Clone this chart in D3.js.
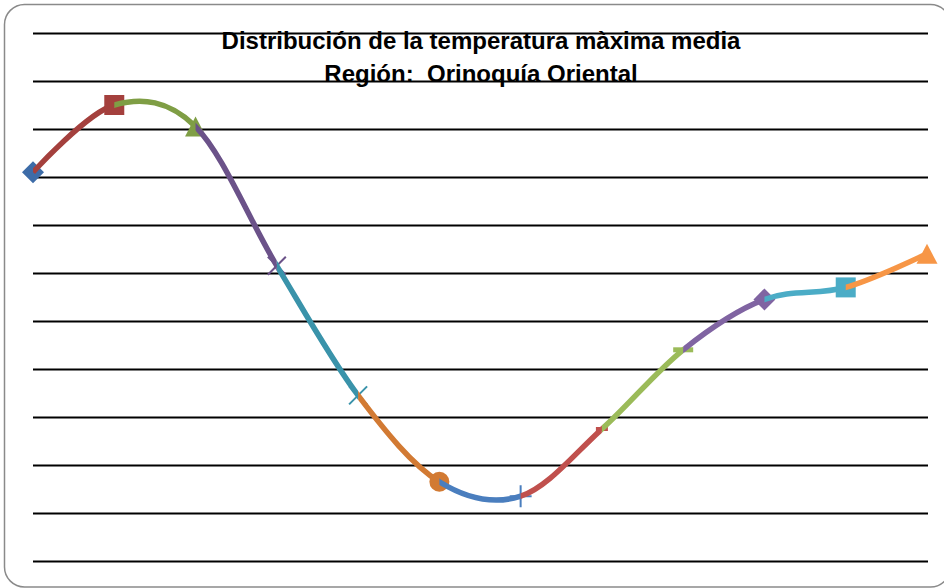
<!DOCTYPE html>
<html>
<head>
<meta charset="utf-8">
<script src="https://cdn.jsdelivr.net/npm/d3@7"></script>
<style>
  html, body { margin: 0; padding: 0; background: #ffffff; }
  svg { display: block; }
</style>
</head>
<body>
<svg id="chart" width="944" height="588"></svg>
<script>
// Monthly mean maximum temperature (°C)
const months = ["Ene", "Feb", "Mar", "Abr", "May", "Jun", "Jul", "Ago", "Sep", "Oct", "Nov", "Dic"];
const tmax = [32.62, 32.90, 32.81, 32.23, 31.69, 31.33, 31.27, 31.55, 31.88, 32.09, 32.14, 32.28];
const gridValues = [31.0, 31.2, 31.4, 31.6, 31.8, 32.0, 32.2, 32.4, 32.6, 32.8, 33.0, 33.2];
const titleLines = ["Distribución de la temperatura màxima media", "Región:  Orinoquía Oriental"];

// One colour and marker per month; the segment ending at a month takes that month's colour
const monthColors = ["#3d6ca8", "#a4403d", "#7f9e45", "#6b5289", "#3a93aa", "#d27a33",
                     "#4a7ebe", "#c0504d", "#9bbb59", "#8064a2", "#4bacc6", "#f79646"];
const monthMarkers = ["diamond", "square", "triangle", "x", "x", "circle",
                      "plus", "dash", "longdash", "diamond", "square", "triangle"];

const svg = d3.select("#chart");
const width = 944, height = 588;
const plot = { left: 33, right: 928, top: 33, bottom: 561 };

// Outer rounded frame
svg.append("rect")
  .attr("x", 4.5).attr("y", 4.5)
  .attr("width", 946).attr("height", 582.5)
  .attr("rx", 20).attr("ry", 20)
  .attr("fill", "#ffffff")
  .attr("stroke", "#8a8a8a")
  .attr("stroke-width", 1.5);

const x = d3.scalePoint().domain(months).range([plot.left, 927]);
const y = d3.scaleLinear().domain([31.0, 33.2]).range([plot.bottom, plot.top]);

// Horizontal gridlines
const grid = svg.append("g")
  .attr("transform", `translate(${plot.left},0)`)
  .call(d3.axisLeft(y).tickValues(gridValues).tickSize(-(plot.right - plot.left)).tickFormat(""));
grid.select(".domain").remove();
grid.selectAll(".tick line").attr("stroke", "#000000").attr("stroke-width", 1.8);

// Title
const title = svg.append("text")
  .attr("text-anchor", "middle")
  .attr("font-family", "'Liberation Sans', Arial, sans-serif")
  .attr("font-weight", "bold")
  .attr("font-size", 24)
  .attr("fill", "#000000")
  .style("white-space", "pre");
titleLines.forEach((t, i) => {
  title.append("tspan").attr("x", 481).attr("y", 49 + i * 33).text(t);
});

// Smooth curve through all months, split into coloured segments by clipping
const points = months.map((m, i) => [x(m), y(tmax[i])]);
const curve = d3.line().curve(d3.curveCardinal.tension(0));
const fullPath = curve(points);

const defs = svg.append("defs");
months.forEach((m, i) => {
  if (i === 0) return;
  defs.append("clipPath").attr("id", `seg${i}`)
    .append("rect")
    .attr("x", x(months[i - 1])).attr("y", 0)
    .attr("width", x(m) - x(months[i - 1])).attr("height", height);
});

function markerPath(type) {
  const p = d3.path();
  switch (type) {
    case "diamond": p.moveTo(0, -11); p.lineTo(11, 0); p.lineTo(0, 11); p.lineTo(-11, 0); p.closePath(); break;
    case "square": p.rect(-10, -10, 20, 20); break;
    case "triangle": p.moveTo(0, -10); p.lineTo(10.5, 10); p.lineTo(-10.5, 10); p.closePath(); break;
    case "circle": p.arc(0, 0, 10, 0, 2 * Math.PI); break;
    case "x": p.moveTo(-9, -9); p.lineTo(9, 9); p.moveTo(9, -9); p.lineTo(-9, 9); break;
    case "plus": p.moveTo(0, -11); p.lineTo(0, 11); p.moveTo(-11, 0); p.lineTo(11, 0); break;
    case "dash": p.rect(-6, -2, 12, 4); break;
    case "longdash": p.rect(-10, -2.5, 20, 5); break;
  }
  return p.toString();
}

const series = svg.append("g");
months.forEach((m, i) => {
  const color = monthColors[i];
  if (i > 0) {
    series.append("path")
      .attr("d", fullPath)
      .attr("clip-path", `url(#seg${i})`)
      .attr("fill", "none")
      .attr("stroke", color)
      .attr("stroke-width", 5.5)
      .attr("stroke-linejoin", "round");
  }
  const type = monthMarkers[i];
  const stroked = type === "x" || type === "plus";
  series.append("path")
    .attr("transform", `translate(${x(m)},${y(tmax[i])})`)
    .attr("d", markerPath(type))
    .attr("fill", stroked ? "none" : color)
    .attr("stroke", stroked ? color : "none")
    .attr("stroke-width", stroked ? 2 : 0);
});
</script>
</body>
</html>
